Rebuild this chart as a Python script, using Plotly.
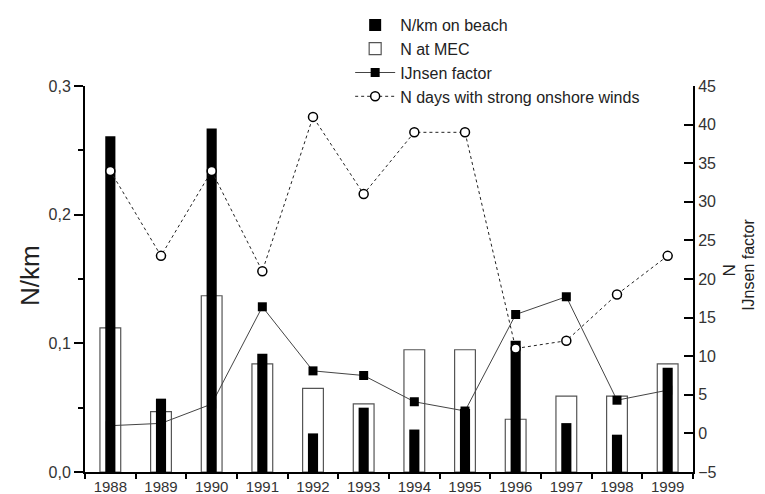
import plotly.graph_objects as go

years = ["1988", "1989", "1990", "1991", "1992", "1993", "1994", "1995", "1996", "1997", "1998", "1999"]
nkm_beach = [0.261, 0.057, 0.267, 0.092, 0.030, 0.050, 0.033, 0.049, 0.102, 0.038, 0.029, 0.081]
n_mec = [0.112, 0.047, 0.137, 0.084, 0.065, 0.053, 0.095, 0.095, 0.041, 0.059, 0.059, 0.084]
ijnsen = [1.0, 1.3, 3.8, 16.4, 8.1, 7.5, 4.1, 2.9, 15.4, 17.7, 4.3, 5.6]
wind_days = [34, 23, 34, 21, 41, 31, 39, 39, 11, 12, 18, 23]

FONT = "Liberation Sans, Arial, sans-serif"
TXT = "#333333"

fig = go.Figure()

fig.add_trace(go.Bar(
    x=years, y=n_mec, name="N at MEC", yaxis="y",
    width=0.41, marker=dict(color="rgba(255,255,255,0)", line=dict(color="#555555", width=1.2)),
    legendrank=2,
))
fig.add_trace(go.Scatter(
    x=years, y=ijnsen, name="IJnsen factor", yaxis="y2", mode="lines+markers",
    line=dict(color="#444444", width=1),
    marker=dict(symbol="square", size=9, color="black"),
    legendrank=3,
))
fig.add_trace(go.Bar(
    x=years, y=nkm_beach, name="N/km on beach", yaxis="y3",
    width=0.2, marker=dict(color="black", line=dict(color="black", width=0)),
    legendrank=1,
))
fig.add_trace(go.Scatter(
    x=years, y=wind_days, name="N days with strong onshore winds", yaxis="y4",
    mode="lines+markers",
    line=dict(color="#222222", width=1, dash="dot"),
    marker=dict(symbol="circle", size=9, color="white", line=dict(color="black", width=1.5)),
    legendrank=4,
))

fig.update_layout(
    width=757, height=486,
    margin=dict(l=77, r=72, t=78, b=22, autoexpand=False),
    paper_bgcolor="white", plot_bgcolor="white",
    separators=", ",
    font=dict(family=FONT, color=TXT, size=13),
    barmode="overlay",
    showlegend=True,
    legend=dict(
        xref="container", yref="container",
        x=0.452, y=1.01, xanchor="left", yanchor="top",
        bgcolor="rgba(0,0,0,0)", font=dict(size=16, color="#222222"),
        tracegroupgap=0, itemwidth=40,
    ),
    xaxis=dict(
        type="category", range=[-0.5, 11.5], tickson="boundaries",
        showline=True, linecolor="black", linewidth=2,
        ticks="outside", ticklen=5, tickwidth=1.5, tickcolor="black",
        tickfont=dict(size=15, color=TXT), showgrid=False, zeroline=False,
    ),
    yaxis=dict(
        range=[0, 0.3], tickvals=[0, 0.1, 0.2, 0.3], tickformat=".1f",
        showline=True, linecolor="black", linewidth=2,
        ticks="outside", ticklen=9, tickwidth=1.5, tickcolor="black",
        minor=dict(dtick=0.05, ticks="outside", ticklen=5, tickcolor="black", tickwidth=1.5, showgrid=False),
        tickfont=dict(size=16, color=TXT), showgrid=False, zeroline=False,
    ),
    yaxis2=dict(
        overlaying="y", side="right", range=[-5, 45], dtick=5, tick0=-5,
        showline=True, linecolor="black", linewidth=2,
        ticks="inside", ticklen=9, tickwidth=1.5, tickcolor="black",
        tickfont=dict(size=16, color=TXT), showgrid=False, zeroline=False,
    ),
    yaxis3=dict(overlaying="y", range=[0, 0.3], visible=False),
    yaxis4=dict(overlaying="y", range=[-5, 45], visible=False),
    annotations=[
        dict(text="N/km", xref="paper", yref="paper", x=-0.0905, y=0.51,
             textangle=-90, showarrow=False, font=dict(size=26, color="#222222"),
             xanchor="center", yanchor="middle"),
        dict(text="N", xref="paper", yref="paper", x=1.06, y=0.523,
             textangle=-90, showarrow=False, font=dict(size=17, color="#222222"),
             xanchor="center", yanchor="middle"),
        dict(text="IJnsen factor", xref="paper", yref="paper", x=1.09, y=0.536,
             textangle=-90, showarrow=False, font=dict(size=16, color="#222222"),
             xanchor="center", yanchor="middle", borderpad=0),
    ],
)

fig.write_html("out.html")
